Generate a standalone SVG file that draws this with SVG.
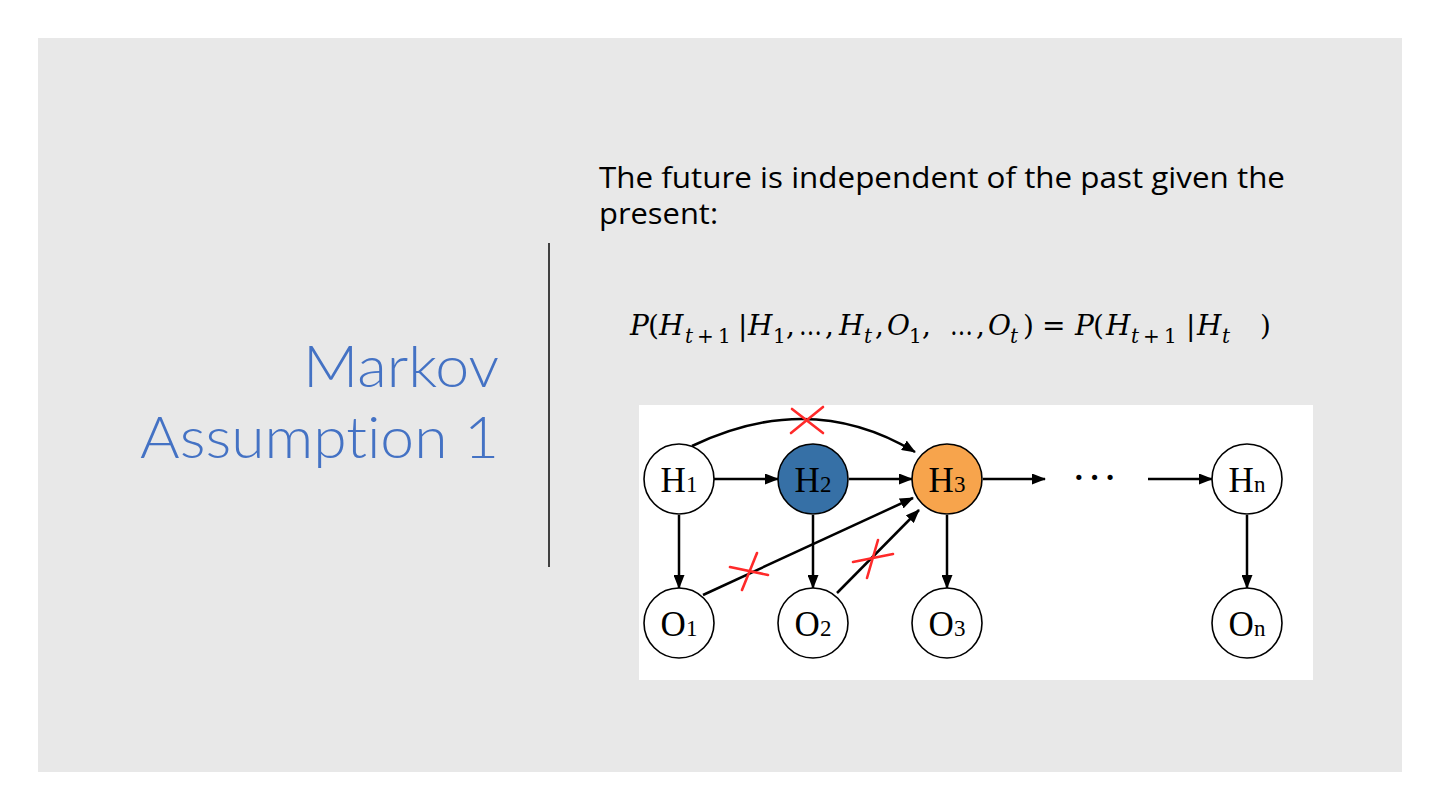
<svg xmlns="http://www.w3.org/2000/svg" width="1440" height="810" viewBox="0 0 1440 810">
<defs>
<marker id="ah" markerUnits="userSpaceOnUse" markerWidth="14" markerHeight="11" refX="13" refY="5.5" orient="auto">
<path d="M0,0 L14,5.5 L0,11 z" fill="#000"/>
</marker>
<style>
.title{font-family:"Lato","Open Sans",sans-serif;font-weight:300;font-size:58px;fill:#4472c4;font-variant-ligatures:none;font-feature-settings:"liga" 0,"dlig" 0}
.body{font-family:"Open Sans","Lato",sans-serif;font-size:29px;fill:#000}
.eq{font-family:"DejaVu Serif","Liberation Serif",serif;font-size:28px;fill:#000}
.it{font-style:italic}
.sub{font-size:20px}
.node circle{stroke:#000;stroke-width:1.6}
.lbl{font-family:"Liberation Serif","Times New Roman",serif;font-size:35px;fill:#000;text-anchor:middle}
.lbl .s{font-size:23px}
.edge{stroke:#000;stroke-width:2.5;fill:none;marker-end:url(#ah)}
.x{stroke:#ff2a2a;stroke-width:2.6;stroke-linecap:round;fill:none}
</style>
</defs>
<rect x="0" y="0" width="1440" height="810" fill="#ffffff"/>
<rect x="38" y="38" width="1364" height="734" fill="#e8e8e8"/>

<g id="title">
<text class="title" x="303" y="387" textLength="196" lengthAdjust="spacingAndGlyphs">Markov</text>
<text class="title" x="140" y="458" textLength="359" lengthAdjust="spacingAndGlyphs">Assumption 1</text>
</g>
<line x1="549" y1="243" x2="549" y2="567" stroke="#404040" stroke-width="2"/>

<g id="body">
<text class="body" x="599" y="188" textLength="686" lengthAdjust="spacingAndGlyphs">The future is independent of the past given the</text>
<text class="body" x="599" y="224" textLength="119" lengthAdjust="spacingAndGlyphs">present:</text>
</g>

<g id="equation" class="eq">
<text x="630" y="335" class="it">P</text>
<text x="648" y="335">(</text>
<text x="659" y="335" class="it">H</text>
<text x="685" y="343" class="sub it">t</text>
<text x="697" y="343" class="sub">+</text>
<text x="718" y="343" class="sub">1</text>
<text x="738" y="335">|</text>
<text x="748" y="335" class="it">H</text>
<text x="773" y="343" class="sub">1</text>
<text x="786" y="335">,</text>
<text x="799" y="335" textLength="23" lengthAdjust="spacingAndGlyphs">…</text>
<text x="825" y="335">,</text>
<text x="839" y="335" class="it">H</text>
<text x="864" y="343" class="sub it">t</text>
<text x="875" y="335">,</text>
<text x="887" y="335" class="it">O</text>
<text x="909" y="343" class="sub">1</text>
<text x="922" y="335">,</text>
<text x="950" y="335" textLength="23" lengthAdjust="spacingAndGlyphs">…</text>
<text x="976" y="335">,</text>
<text x="988" y="335" class="it">O</text>
<text x="1010" y="343" class="sub it">t</text>
<text x="1023" y="335">)</text>
<text x="1042" y="335">=</text>
<text x="1075" y="335" class="it">P</text>
<text x="1093" y="335">(</text>
<text x="1106" y="335" class="it">H</text>
<text x="1131" y="343" class="sub it">t</text>
<text x="1143" y="343" class="sub">+</text>
<text x="1164" y="343" class="sub">1</text>
<text x="1186" y="335">|</text>
<text x="1197" y="335" class="it">H</text>
<text x="1222" y="343" class="sub it">t</text>
<text x="1260" y="335">)</text>
</g>

<rect x="639" y="405" width="674" height="275" fill="#ffffff"/>

<g id="connectors">
<line class="edge" x1="714" y1="479" x2="778" y2="479"/>
<line class="edge" x1="849" y1="479" x2="912" y2="479"/>
<line class="edge" x1="983" y1="479" x2="1045" y2="479"/>
<line class="edge" x1="1148" y1="479" x2="1212" y2="479"/>
<line class="edge" x1="679" y1="515" x2="679" y2="588"/>
<line class="edge" x1="813" y1="515" x2="813" y2="588"/>
<line class="edge" x1="947" y1="515" x2="947" y2="588"/>
<line class="edge" x1="1247" y1="515" x2="1247" y2="588"/>
<path class="edge" d="M692,446 Q811,389 915,452"/>
<line class="edge" x1="703" y1="595" x2="913" y2="498"/>
<line class="edge" x1="837" y1="593" x2="919" y2="510"/>
</g>

<g id="ellipsis">
<text x="1097" y="488" text-anchor="middle" style="font-family:'Liberation Serif',serif;font-size:32px;font-weight:bold;letter-spacing:5px">···</text>
</g>

<g id="crosses">
<path class="x" d="M792,409 L823,433 M791,433 L823,407"/>
<path class="x" d="M730,567 L768,575 M742,590 L757,553"/>
<path class="x" d="M853,562 L893,554 M867,578 L878,540"/>
</g>

<g id="H1" class="node"><circle cx="679" cy="479" r="35" fill="#fff"/><text class="lbl" x="679" y="492">H<tspan class="s">1</tspan></text></g>
<g id="H2" class="node"><circle cx="813" cy="479" r="35" fill="#3670a6"/><text class="lbl" x="813" y="492">H<tspan class="s">2</tspan></text></g>
<g id="H3" class="node"><circle cx="947" cy="479" r="35" fill="#f7a44c"/><text class="lbl" x="947" y="492">H<tspan class="s">3</tspan></text></g>
<g id="Hn" class="node"><circle cx="1247" cy="479" r="35" fill="#fff"/><text class="lbl" x="1247" y="492">H<tspan class="s">n</tspan></text></g>
<g id="O1" class="node"><circle cx="679" cy="623" r="35" fill="#fff"/><text class="lbl" x="679" y="636">O<tspan class="s">1</tspan></text></g>
<g id="O2" class="node"><circle cx="813" cy="623" r="35" fill="#fff"/><text class="lbl" x="813" y="636">O<tspan class="s">2</tspan></text></g>
<g id="O3" class="node"><circle cx="947" cy="623" r="35" fill="#fff"/><text class="lbl" x="947" y="636">O<tspan class="s">3</tspan></text></g>
<g id="On" class="node"><circle cx="1247" cy="623" r="35" fill="#fff"/><text class="lbl" x="1247" y="636">O<tspan class="s">n</tspan></text></g>
</svg>
